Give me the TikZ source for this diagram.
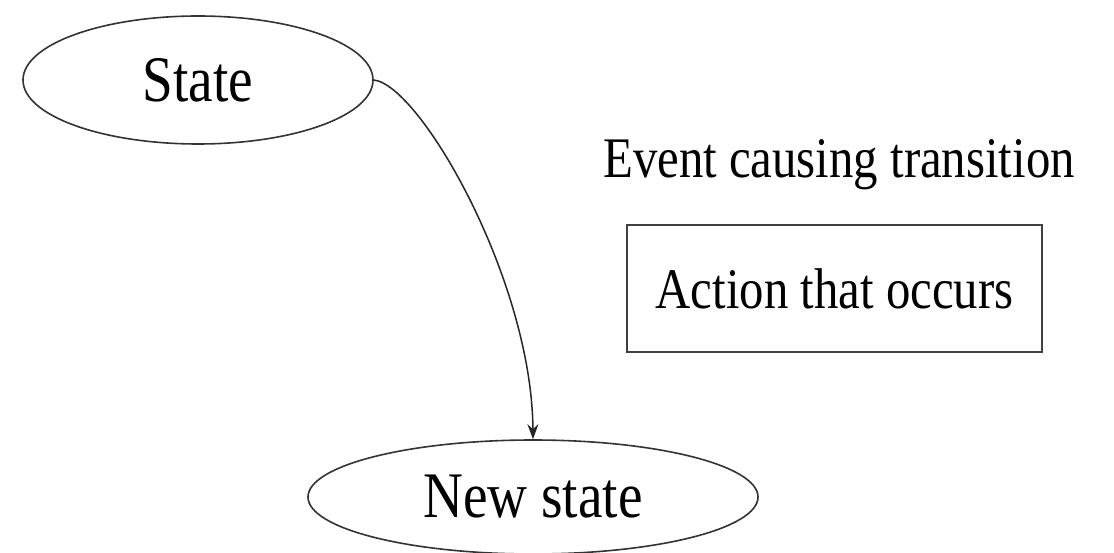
\documentclass[tikz,border=0pt]{standalone}
\usepackage{fontspec}
\usetikzlibrary{shapes.geometric,arrows.meta}
\newfontfamily\tnr[FakeStretch=0.85]{Liberation Serif}
\tikzset{
  statebox/.style={ellipse, draw=black!80, line width=1.6pt, inner sep=0pt, font=\tnr\fontsize{65}{70}\selectfont},
  labeltext/.style={inner sep=0pt, font=\tnr\fontsize{57.4}{62}\selectfont},
  actionbox/.style={rectangle, draw=black!75, line width=1.8pt, inner sep=0pt, font=\tnr\fontsize{57.4}{62}\selectfont},
  trans/.style={draw=black!85, line width=1.5pt, -{Stealth[length=15pt, width=11pt]}}
}
\begin{document}
\begin{tikzpicture}[x=1pt, y=-1pt]
  \useasboundingbox (0,0) rectangle (1114,553);
  \node[statebox, minimum width=350pt, minimum height=128pt] (s) at (198,80) {State};
  \node[statebox, minimum width=450pt, minimum height=114pt] (n) at (533,497) {New state};
  \node[labeltext, anchor=base] (ev) at (839,178) {Event causing transition};
  \node[actionbox, minimum width=415pt, minimum height=127pt] (act) at (834.5,288.5) {Action that occurs};
  \coordinate (c1) at (420,85);
  \coordinate (c2) at (532,280);
  \draw[trans] (s.east) .. controls (c1) and (c2) .. (n.north);
\end{tikzpicture}
\end{document}
